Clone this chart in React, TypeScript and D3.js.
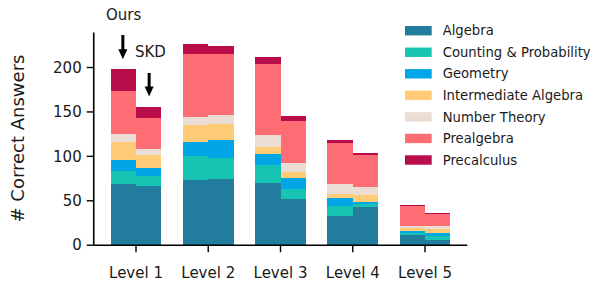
import React from "react";
import * as d3 from "d3";

// values
const levels = ["Level 1", "Level 2", "Level 3", "Level 4", "Level 5"];
const subjects = [
  "Algebra",
  "Counting & Probability",
  "Geometry",
  "Intermediate Algebra",
  "Number Theory",
  "Prealgebra",
  "Precalculus",
];
const colors = ["#227c9d", "#17c3b2", "#00a6e6", "#ffcb77", "#ecddd4", "#fe6d73", "#b80c4b"];

// one array per subject, one value per level
const oursAlgebra = [69, 73, 70, 33, 11];
const oursCounting = [15, 27, 20, 11, 3];
const oursGeometry = [12, 16, 13, 9, 2];
const oursIntermediate = [20, 19, 8, 5, 3];
const oursNumberTheory = [9, 9, 13, 11, 3];
const oursPrealgebra = [48, 71, 80, 46, 22];
const oursPrecalculus = [25, 12, 8, 3, 1];

const skdAlgebra = [67, 74, 52, 43, 6];
const skdCounting = [11, 24, 11, 3, 4];
const skdGeometry = [9, 20, 13, 3, 4];
const skdIntermediate = [15, 18, 6, 8, 4];
const skdNumberTheory = [6, 11, 11, 8, 4];
const skdPrealgebra = [35, 68, 47, 36, 13];
const skdPrecalculus = [13, 9, 5, 3, 1];

const yTicks = [0, 50, 100, 150, 200];

const oursSeries = [oursAlgebra, oursCounting, oursGeometry, oursIntermediate, oursNumberTheory, oursPrealgebra, oursPrecalculus];
const skdSeries = [skdAlgebra, skdCounting, skdGeometry, skdIntermediate, skdNumberTheory, skdPrealgebra, skdPrecalculus];

const width = 594;
const height = 284;
const font = "DejaVu Sans, sans-serif";
const barW = 0.35;

const x = d3.scaleLinear().domain([0, 1]).range([136, 208.25]);
const y = d3.scaleLinear().domain([0, 239.4]).range([245.2, 32.5]);

function stackFor(series: number[][]) {
  const rows = levels.map((lv, i) => {
    const row: any = { level: i };
    subjects.forEach((s, j) => (row[s] = series[j][i]));
    return row;
  });
  return d3.stack().keys(subjects)(rows);
}

const Bars = ({ series, offset }: { series: number[][]; offset: number }) => {
  const layers = stackFor(series);
  const bw = x(barW) - x(0);
  return (
    <g shapeRendering="crispEdges">
      {layers.map((layer, j) =>
        layer.map((d, i) => (
          <rect
            key={j + "-" + i}
            x={x(i + offset)}
            y={y(d[1])}
            width={bw}
            height={y(d[0]) - y(d[1])}
            fill={colors[j]}
          />
        ))
      )}
    </g>
  );
};

const Arrow = ({ cx, y1, y2 }: { cx: number; y1: number; y2: number }) => (
  <g>
    <line x1={cx} x2={cx} y1={y1} y2={y2 - 8} stroke="black" strokeWidth={3} />
    <path d={`M${cx - 4.5},${y2 - 10} L${cx + 4.5},${y2 - 10} L${cx},${y2} Z`} fill="black" />
  </g>
);

export default function App() {
  const x0 = x(-0.585);
  const x1 = x(4.585);
  const o1 = stackFor(oursSeries)[6][0][1];
  const s1 = stackFor(skdSeries)[6][0][1];
  return (
    <svg width={width} height={height} style={{ position: "absolute", left: 0, top: 0 }} fontFamily={font}>
      <rect width={width} height={height} fill="white" />
      <Bars series={oursSeries} offset={-barW} />
      <Bars series={skdSeries} offset={0} />

      {/* axes */}
      <line x1={x0} x2={x0} y1={y(239.4)} y2={y(0)} stroke="black" strokeWidth={1.6} />
      <line x1={x0} x2={x1} y1={y(0)} y2={y(0)} stroke="black" strokeWidth={1.6} />
      {yTicks.map((t) => (
        <g key={t}>
          <line x1={x0 - 7} x2={x0} y1={y(t)} y2={y(t)} stroke="black" strokeWidth={1.4} />
          <text x={x0 - 12} y={y(t)} dy="0.35em" textAnchor="end" fontSize={15} fill="#1a1a1a">
            {t}
          </text>
        </g>
      ))}
      {levels.map((lv, i) => (
        <g key={lv}>
          <line x1={x(i)} x2={x(i)} y1={y(0)} y2={y(0) + 7} stroke="black" strokeWidth={1.4} />
          <text x={x(i)} y={277.5} textAnchor="middle" fontSize={15} fill="#1a1a1a">
            {lv}
          </text>
        </g>
      ))}
      <text
        transform={`translate(24,138.5) rotate(-90)`}
        textAnchor="middle"
        fontSize={18}
        fill="#1a1a1a"
      >
        # Correct Answers
      </text>

      {/* annotations */}
      <text x={106} y={20} fontSize={15} fill="#1a1a1a">
        Ours
      </text>
      <Arrow cx={x(-barW / 2) - 0.5} y1={35} y2={y(o1) - 10} />
      <text x={135} y={56.5} fontSize={15} fill="#1a1a1a">
        SKD
      </text>
      <Arrow cx={x(barW / 2) + 0.5} y1={73} y2={y(s1) - 10} />

      {/* legend */}
      {subjects.map((s, j) => (
        <g key={s} transform={`translate(405,${30.7 + j * 21.55})`}>
          <rect x={0} y={-4.7} width={26.7} height={9.4} fill={colors[j]} />
          <text x={37.7} y={0} dy="0.35em" fontSize={13.2} fill="#1a1a1a">
            {s}
          </text>
        </g>
      ))}
    </svg>
  );
}
